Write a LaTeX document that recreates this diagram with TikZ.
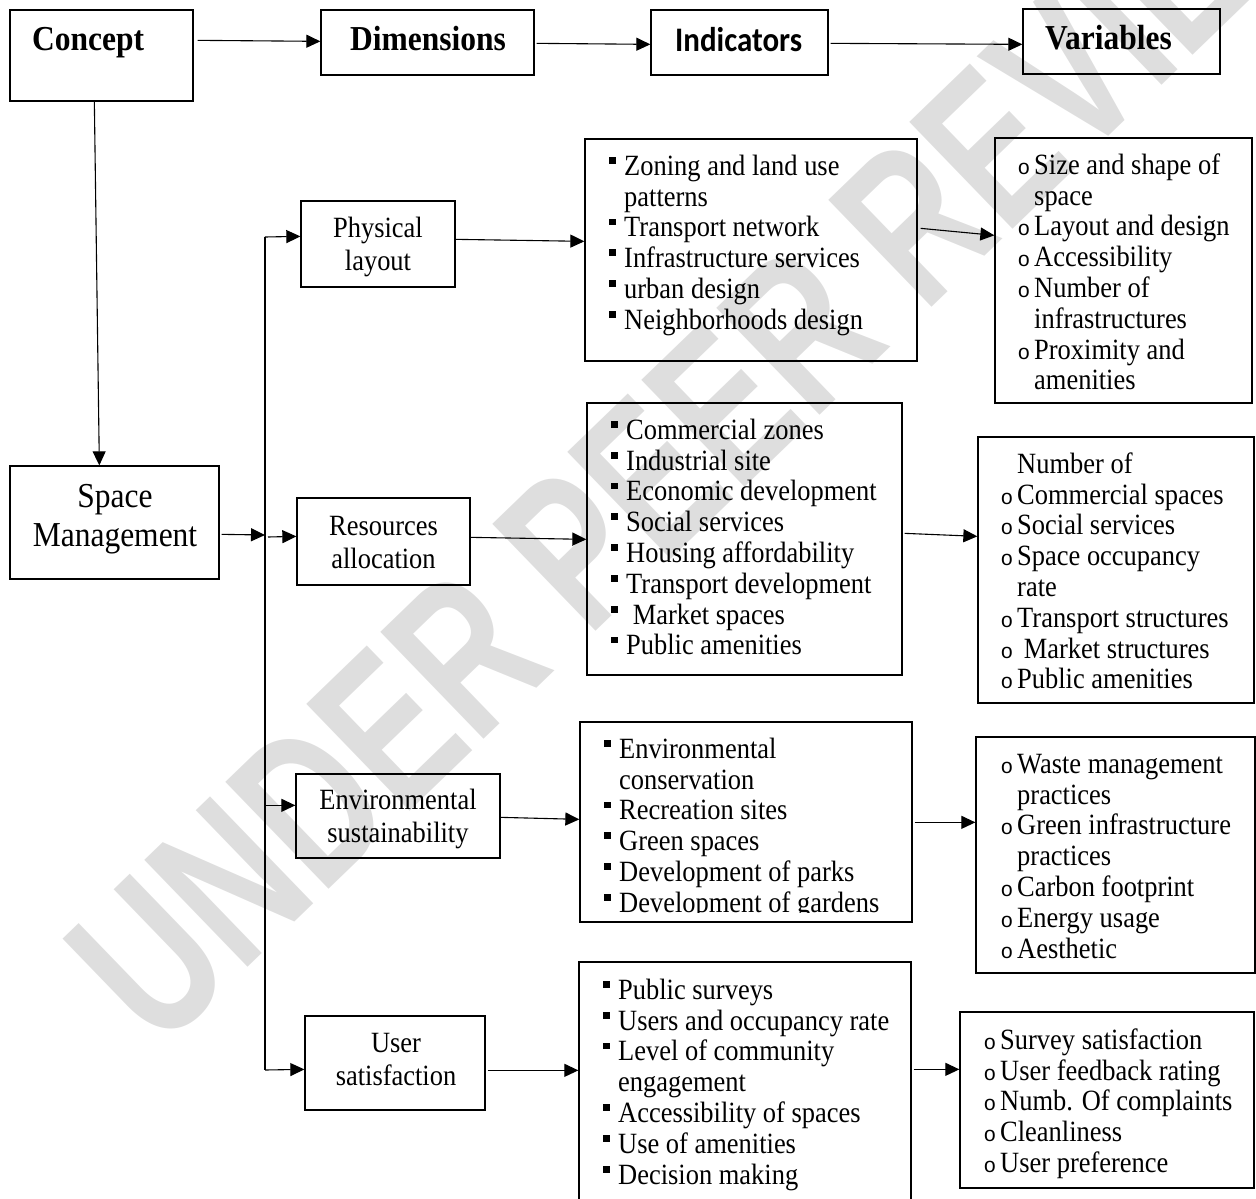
\documentclass[tikz,border=0pt]{standalone}
\usepackage{fontspec}
\setmainfont{Liberation Serif}[FakeStretch=0.9]
\newfontfamily\calfont{Carlito}[FakeStretch=0.9]
\newfontfamily\monof{Liberation Mono}
\newfontfamily\wmfont{Liberation Sans}[FakeStretch=0.72]
\usetikzlibrary{arrows.meta,calc,fit}
\newcommand\sqbul{\rule[11.5pt]{6.8pt}{6.8pt}}
\newcommand\sqi{\makebox[15pt][l]{\sqbul}}
\newcommand\cii{\makebox[17pt][l]{\hspace{0.5pt}{\monof\fontsize{21}{21}\selectfont o}}}
\newcommand\sqgap{\hspace*{15pt}}
\newcommand\cgap{\hspace*{17pt}}
\begin{document}
\begin{tikzpicture}[x=1pt,y=-1pt,
  bx/.style={draw, line width=1.3pt, inner sep=0pt},
  lst/.style={anchor=north west, inner sep=0pt, align=left, font={\fontsize{29.4}{30.8}\selectfont}},
  dimt/.style={inner sep=0pt, align=center, font={\fontsize{29.4}{33}\selectfont}},
  ttl/.style={anchor=base west, inner sep=0pt, font={\bfseries\fontsize{35}{38}\selectfont}},
  arr/.style={line width=1.1pt, -{Triangle[length=14pt,width=13pt]}},
  ln/.style={line width=1.1pt}]
\useasboundingbox (0,0) rectangle (1256,1199);
% watermark
\node[rotate=44, text=black!13, inner sep=0pt,
  font={\wmfont\bfseries\fontsize{216}{216}\selectfont}] (wm) at (712,418) {UNDER PEER REVIEW};

% header boxes
\node[bx, fit={(10,10)(193,101)}] (concept) {};
\node[bx, fit={(321,10)(534,75)}] (dims) {};
\node[bx, fit={(651,10)(828,75)}] (inds) {};
\node[bx, fit={(1023,9)(1220,74)}] (vars) {};
\node[ttl] (conceptT) at (32,51) {Concept};
\node[ttl] (dimsT) at (350,51) {Dimensions};
\node[ttl, font={\calfont\bfseries\fontsize{34.4}{38}\selectfont}] (indsT) at (675,51.5) {Indicators};
\node[ttl] (varsT) at (1045,49.5) {Variables};

% concept and dimensions
\node[bx, fit={(10,466)(219,579)}] (spm) {};
\node[inner sep=0pt, align=center, font={\fontsize{35}{39}\selectfont}] (spmT) at (115,519) {Space\\Management};
\node[bx, fit={(301,201)(455,287)}] (phys) {};
\node[bx, fit={(297,498)(470,585)}] (res) {};
\node[bx, fit={(296,774)(500,858)}] (env) {};
\node[bx, fit={(305,1016)(485,1110)}] (user) {};
\node[dimt] (physT) at ($(phys.center)+(0,3)$) {Physical\\layout};
\node[dimt] (resT) at ($(res.center)+(0,1)$) {Resources\\allocation};
\node[dimt] (envT) at ($(env.center)+(0,3)$) {Environmental\\sustainability};
\node[dimt] (userT) at (396,1060) {User\\satisfaction};

% indicator boxes
\node[bx, fit={(585,139)(917,361)}] (ind1) {};
\node[bx, fit={(587,403)(902,675)}] (ind2) {};
\node[bx, fit={(580,722)(912,922)}] (ind3) {};
\node[bx, fit={(579,962)(911,1215)}] (ind4) {};
% variable boxes
\node[bx, fit={(995,138)(1252,403)}] (var1) {};
\node[bx, fit={(978,437)(1254,703)}] (var2) {};
\node[bx, fit={(976,737)(1255,973)}] (var3) {};
\node[bx, fit={(960,1012)(1254,1188)}] (var4) {};

% indicator texts
\node[lst] (ind1T) at (609,153.5) {\strut\sqi Zoning and land use\\
 \sqgap patterns\\
 \sqi Transport network\\
 \sqi Infrastructure services\\
 \sqi urban design\\
 \sqi Neighborhoods design};
\node[lst] (ind2T) at (611,417.5) {\strut\sqi Commercial zones\\
 \sqi Industrial site\\
 \sqi Economic development\\
 \sqi Social services\\
 \sqi Housing affordability\\
 \sqi Transport development\\
 \sqi\ Market spaces\\
 \sqi Public amenities};
\begin{scope}
\clip (570,700) rectangle (925,912);
\node[lst] (ind3T) at (604,736.5) {\strut\sqi Environmental\\
 \sqgap conservation\\
 \sqi Recreation sites\\
 \sqi Green spaces\\
 \sqi Development of parks\\
 \sqi Development of gardens};
\end{scope}
\node[lst] (ind4T) at (603,977.5) {\strut\sqi Public surveys\\
 \sqi Users and occupancy rate\\
 \sqi Level of community\\
 \sqgap engagement\\
 \sqi Accessibility of spaces\\
 \sqi Use of amenities\\
 \sqi Decision making};

% variable texts
\node[lst] (var1T) at (1017,152.5) {\strut\cii Size and shape of\\
 \cgap space\\
 \cii Layout and design\\
 \cii Accessibility\\
 \cii Number of\\
 \cgap infrastructures\\
 \cii Proximity and\\
 \cgap amenities};
\node[lst] (var2T) at (1000,451.5) {\strut\cgap Number of\\
 \cii Commercial spaces\\
 \cii Social services\\
 \cii Space occupancy\\
 \cgap rate\\
 \cii Transport structures\\
 \cii\ Market structures\\
 \cii Public amenities};
\node[lst] (var3T) at (1000,751.5) {\strut\cii Waste management\\
 \cgap practices\\
 \cii Green infrastructure\\
 \cgap practices\\
 \cii Carbon footprint\\
 \cii Energy usage\\
 \cii Aesthetic};
\node[lst] (var4T) at (983,1027.5) {\strut\cii Survey satisfaction\\
 \cii User feedback rating\\
 \cii Numb. Of complaints\\
 \cii Cleanliness\\
 \cii User preference};

% header connectors
\draw[arr] ($(concept.north east)+(4,31)$) -- ($(dims.north west)+(0,32)$);
\draw[arr] ($(dims.north east)+(2,34)$) -- ($(inds.north west)+(0,35)$);
\draw[arr] ($(inds.north east)+(2,34)$) -- ($(vars.north west)+(0,36)$);
\draw[arr] ($(concept.south west)+(85,0)$) -- ($(spm.north west)+(90,0)$);

% trunk
\coordinate (tTop) at (265,237);
\coordinate (tMid) at (265,535);
\coordinate (tBot) at (265,1070);
\draw[ln] (tTop) -- (tBot);
\draw[arr] ($(spm.north east)+(2,69)$) -- (tMid);
\draw[arr] (tTop) -- ($(phys.north west)+(0,36)$);
\draw[arr] ($(tMid)+(3,2)$) -- ($(res.north west)+(0,39)$);
\coordinate (envIn) at ($(env.north west)+(0,32)$);
\draw[arr] (tTop |- envIn) -- (envIn);
\draw[arr] (tBot) -- ($(user.north west)+(0,54)$);

% dimension -> indicators
\draw[arr] ($(phys.north east)+(0,39)$) -- ($(ind1.north west)+(0,103)$);
\draw[arr] ($(res.north east)+(0,40)$) -- ($(ind2.north west)+(0,137)$);
\draw[arr] ($(env.north east)+(0,44)$) -- ($(ind3.north west)+(0,98)$);
\draw[arr] ($(user.north east)+(2,55)$) -- ($(ind4.north west)+(0,109)$);

% indicators -> variables
\draw[arr] ($(ind1.north east)+(3,90)$) -- ($(var1.north west)+(0,98)$);
\draw[arr] ($(ind2.north east)+(2,131)$) -- ($(var2.north west)+(0,100)$);
\draw[arr] ($(ind3.north east)+(2,101)$) -- ($(var3.north west)+(0,86)$);
\draw[arr] ($(ind4.north east)+(2,108)$) -- ($(var4.north west)+(0,58)$);
\end{tikzpicture}
\end{document}
